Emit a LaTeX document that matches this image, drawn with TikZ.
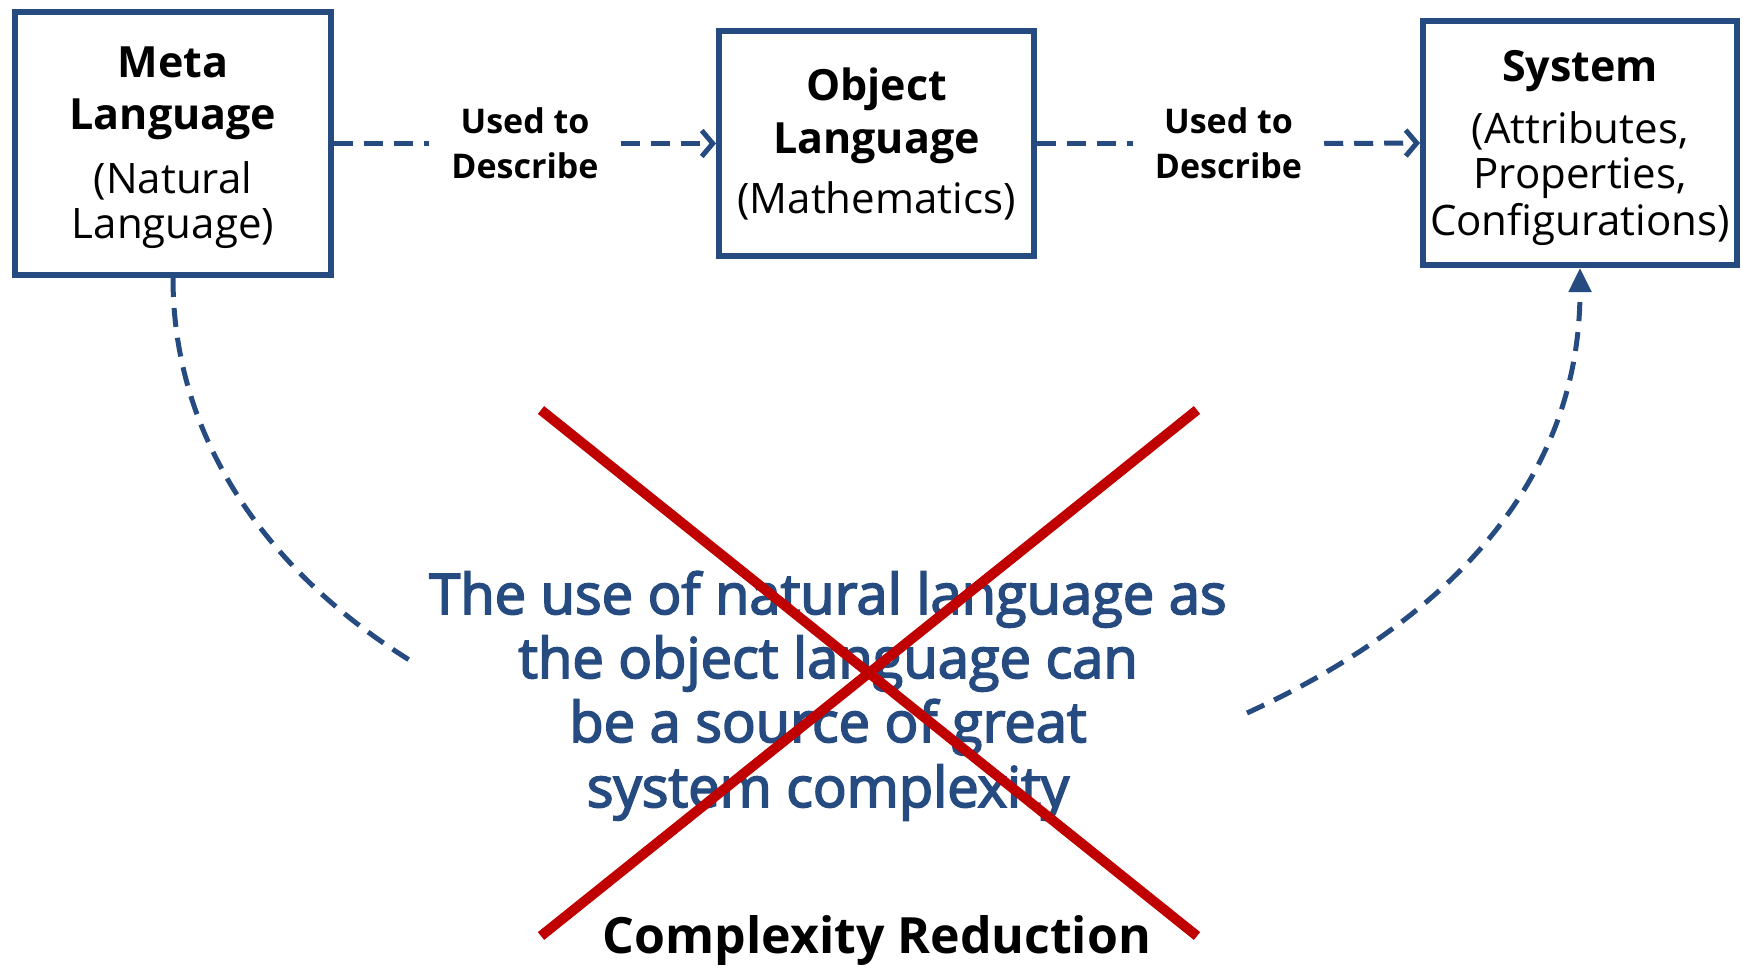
\documentclass[tikz,border=0pt]{standalone}
\usepackage{fontspec}
\setmainfont{Open Sans}
\newfontfamily\blufont[FakeBold=3]{Open Sans}
\usetikzlibrary{arrows.meta}
\definecolor{dblue}{HTML}{254B80}
\definecolor{xred}{HTML}{C00000}
\begin{document}
\begin{tikzpicture}[x=1pt,y=-1pt,
  box/.style={draw=dblue,line width=6pt,inner sep=0pt},
  ttl/.style={font=\fontsize{43}{50}\selectfont\bfseries,anchor=base,inner sep=0pt},
  sub/.style={font=\fontsize{42}{48}\selectfont,anchor=base,inner sep=0pt},
  uselbl/.style={font=\fontsize{34}{45}\selectfont\bfseries,align=center,inner xsep=22pt,inner ysep=0pt},
  conn/.style={draw=dblue,line width=5pt,dash pattern=on 19pt off 11pt},
  blu/.style={font=\blufont\fontsize{56}{64}\selectfont,text=dblue,anchor=base,inner sep=0pt},
  bottomlbl/.style={font=\fontsize{50}{55}\selectfont\bfseries,anchor=base,inner sep=0pt},
]
\useasboundingbox (0,0) rectangle (1743,967);
% boxes
\node[box,minimum width=316pt,minimum height=263pt] (meta) at (173,143.5) {};
\node[box,minimum width=315pt,minimum height=225pt] (obj) at (876.5,143.5) {};
\node[box,minimum width=314pt,minimum height=244pt] (sys) at (1580,143) {};
% box texts
\node[ttl] (mt1) at (173,77) {Meta};
\node[ttl] (mt2) at (173,129) {Language};
\node[sub] (ms1) at (173,193) {(Natural};
\node[sub] (ms2) at (173,238) {Language)};
\node[ttl] (ot1) at (876.5,100) {Object};
\node[ttl] (ot2) at (876.5,153) {Language};
\node[sub] (os1) at (876.5,213) {(Mathematics)};
\node[ttl] (st1) at (1580,81) {System};
\node[sub] (ss1) at (1580,143) {(Attributes,};
\node[sub] (ss2) at (1580,188) {Properties,};
\node[sub] (ss3) at (1580,235) {Configurations)};
% connectors
\node[uselbl] (u1) at (525,143.5) {Used to\\Describe};
\node[uselbl] (u2) at (1228.5,143.5) {Used to\\Describe};
\draw[conn] (meta.east) -- (u1.west);
\draw[conn,-{Straight Barb[length=11pt,width=26pt]}] (u1.east) -- (obj.west);
\draw[conn] (obj.east) -- (u2.west);
\draw[conn,-{Straight Barb[length=11pt,width=26pt]}] (u2.east) -- (sys.west);
% curves
\coordinate (lend) at (411,661);
\coordinate (rstart) at (1247,713);
\draw[conn] (meta.south) .. controls (173,450) and (280,580) .. (lend);
\draw[conn,-{Triangle[length=24pt,width=22pt]}] (rstart) .. controls (1450,620) and (1580,480) .. (sys.south);
% blue text
\node[blu] (b1) at (828,614) {The use of natural language as};
\node[blu] (b2) at (828,678) {the object language can};
\node[blu] (b3) at (828,742) {be a source of great};
\node[blu] (b4) at (828,807) {system complexity};
% red X
\draw[xred,line width=10pt] (541,410) -- (1197,936);
\draw[xred,line width=10pt] (541,936) -- (1197,410);
% bottom text
\node[bottomlbl] (cr) at (877,953) {Complexity Reduction};
\end{tikzpicture}
\end{document}
